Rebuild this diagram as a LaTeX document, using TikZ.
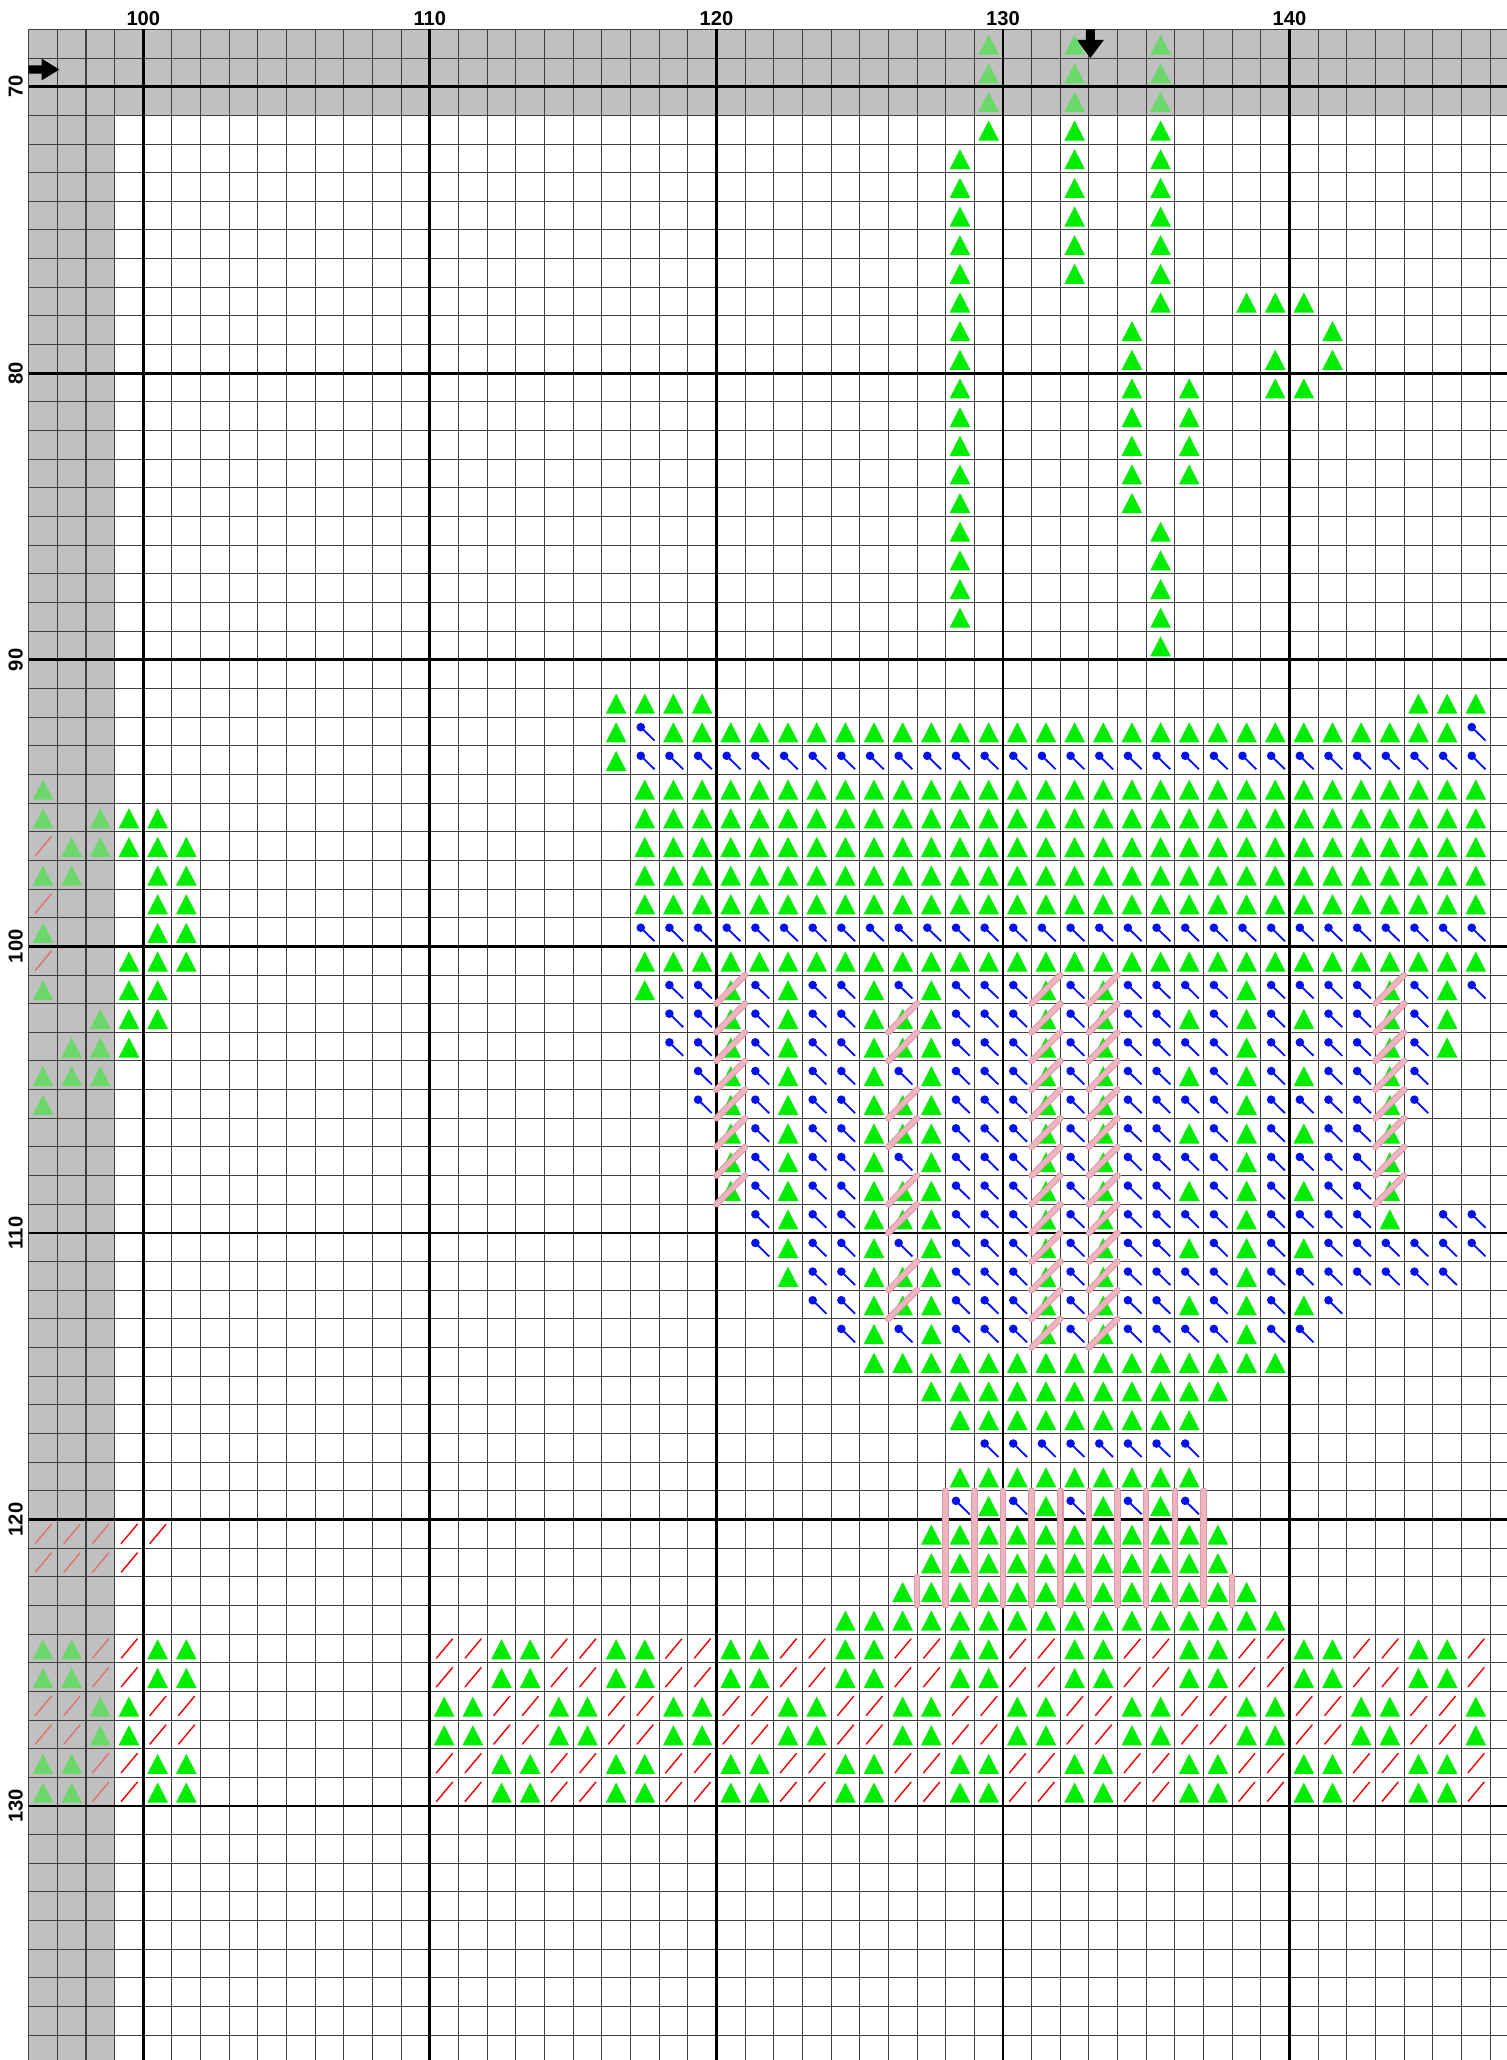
\documentclass[tikz,border=0pt]{standalone}
\usepackage{fontspec}
\setmainfont{Liberation Sans}
\usepackage{tikz}
\usetikzlibrary{calc}
\definecolor{stgreen}{HTML}{00EC00}
\definecolor{fadegreen}{HTML}{6CD86C}
\definecolor{stblue}{HTML}{0010F0}
\definecolor{stred}{HTML}{F00000}
\definecolor{fadered}{HTML}{E07272}
\definecolor{chartgrey}{HTML}{C0C0C0}
\definecolor{bsedge}{HTML}{D99AA8}
\definecolor{bsfill}{HTML}{F0B4BF}

\begin{document}
\begin{tikzpicture}[
  x=5mm, y=-5mm,
  font=\bfseries\fontsize{10}{11}\selectfont,
  gridthin/.style={draw=black!75,line width=0.5pt},
  gridthick/.style={draw=black,line width=1.4pt},
  bstitch/.style={draw=bsedge,double=bsfill,double distance=2.2pt,line width=0.5pt,line cap=round},
  collabel/.style={anchor=center,inner sep=0pt},
  rowlabel/.style={anchor=center,inner sep=0pt,rotate=90},
  marker/.style={fill=black},
  gtri/.pic={\fill[stgreen] (0.14,0.88) -- (0.86,0.88) -- (0.5,0.18) -- cycle;},
  ftri/.pic={\fill[fadegreen] (0.14,0.88) -- (0.86,0.88) -- (0.5,0.18) -- cycle;},
  bpin/.pic={\draw[stblue,line width=0.9pt] (0.36,0.35) -- (0.84,0.82);
             \fill[stblue] (0.36,0.35) circle [radius=0.15];},
  rsl/.pic={\draw[stred,line width=0.7pt,line cap=round] (0.23,0.84) -- (0.79,0.17);},
  fsl/.pic={\draw[fadered,line width=0.7pt,line cap=round] (0.23,0.84) -- (0.79,0.17);}
]
\useasboundingbox (95,66.975) rectangle (147.59,138.865);
\fill[white] (95,66.975) rectangle (147.59,138.865);

% grey border zone
\fill[chartgrey] (96,68) rectangle (99,138.865);
\fill[chartgrey] (96,68) rectangle (147.59,71);

% grid
\foreach \i in {96,...,147} \draw[gridthin] (\i,68) -- (\i,138.865);
\foreach \j in {68,...,138} \draw[gridthin] (96,\j) -- (147.59,\j);
\foreach \i in {100,110,...,140} \draw[gridthick] (\i,68) -- (\i,138.865);
\foreach \j in {70,80,...,130} \draw[gridthick] (96,\j) -- (147.59,\j);

% labels
\foreach \c in {100,110,...,140} \node[collabel] (col\c) at (\c,67.61) {\c};
\foreach \r in {70,80,...,130} \node[rowlabel] (row\r) at (95.55,\r) {\r};

% centre markers
\fill[marker] (132.89,68) -- (133.21,68) -- (133.21,68.37) -- (133.52,68.37)
  -- (133.05,69) -- (132.58,68.37) -- (132.89,68.37) -- cycle;
\fill[marker] (96,69.26) -- (96.45,69.26) -- (96.45,69.02) -- (97.07,69.4)
  -- (96.45,69.78) -- (96.45,69.54) -- (96,69.54) -- cycle;

% stems
\foreach \r in {68,69,70} {
  \pic at (129,\r) {ftri}; \pic at (132,\r) {ftri}; \pic at (135,\r) {ftri};
}
\pic at (129,71) {gtri};
\foreach \r in {72,...,88} \pic at (128,\r) {gtri};
\foreach \r in {71,...,76} \pic at (132,\r) {gtri};
\foreach \r in {71,...,77} \pic at (135,\r) {gtri};
\foreach \r in {78,...,84} \pic at (134,\r) {gtri};
\foreach \r in {85,...,89} \pic at (135,\r) {gtri};
\foreach \r in {80,...,83} \pic at (136,\r) {gtri};
\foreach \c/\r in {138/77,139/77,140/77,141/78,139/79,141/79,139/80,140/80}
  \pic at (\c,\r) {gtri};

% left fragment
\foreach \c/\r in {96/94,96/95,98/95,97/96,98/96,96/97,97/97,96/99,96/101,
                   98/102,97/103,98/103,96/104,97/104,98/104,96/105}
  \pic at (\c,\r) {ftri};
\foreach \r in {96,98,100} \pic at (96,\r) {fsl};
\foreach \c/\r in {99/95,100/95,99/96,100/96,101/96,100/97,101/97,100/98,101/98,
                   100/99,101/99,99/100,100/100,101/100,99/101,100/101,99/102,
                   100/102,99/103}
  \pic at (\c,\r) {gtri};

% cup rim
\foreach \c in {116,...,119,144,145,146} \pic at (\c,91) {gtri};
\foreach \c in {116,118,119,...,145} \pic at (\c,92) {gtri};
\foreach \c in {117,146} \pic at (\c,92) {bpin};
\pic at (116,93) {gtri};
\foreach \c in {117,...,146} {
  \pic at (\c,93) {bpin};
  \foreach \r in {94,...,98} \pic at (\c,\r) {gtri};
  \pic at (\c,99) {bpin};
  \pic at (\c,100) {gtri};
}

% cup body
\foreach \r/\tl/\pl in {
  101/{117,120,122,125,127,131,133,138,143,145}/{118,119,121,123,124,126,128,129,130,132,134,135,136,137,139,140,141,142,144,146},
  102/{120,122,125,126,127,131,133,136,138,140,143,145}/{118,119,121,123,124,128,129,130,132,134,135,137,139,141,142,144},
  103/{120,122,125,126,127,131,133,138,143,145}/{118,119,121,123,124,128,129,130,132,134,135,136,137,139,140,141,142,144},
  104/{120,122,125,127,131,133,136,138,140,143}/{119,121,123,124,126,128,129,130,132,134,135,137,139,141,142,144},
  105/{120,122,125,126,127,131,133,138,143}/{119,121,123,124,128,129,130,132,134,135,136,137,139,140,141,142,144},
  106/{120,122,125,126,127,131,133,136,138,140,143}/{121,123,124,128,129,130,132,134,135,137,139,141,142},
  107/{120,122,125,127,131,133,138,143}/{121,123,124,126,128,129,130,132,134,135,136,137,139,140,141,142},
  108/{120,122,125,126,127,131,133,136,138,140,143}/{121,123,124,128,129,130,132,134,135,137,139,141,142},
  109/{122,125,126,127,131,133,138,143}/{121,123,124,128,129,130,132,134,135,136,137,139,140,141,142,145,146},
  110/{122,125,127,131,133,136,138,140}/{121,123,124,126,128,129,130,132,134,135,137,139,141,142,143,144,145,146},
  111/{122,125,126,127,131,133,138}/{123,124,128,129,130,132,134,135,136,137,139,140,141,142,143,144,145},
  112/{125,126,127,131,133,136,138,140}/{123,124,128,129,130,132,134,135,137,139,141},
  113/{125,127,131,133,138}/{124,126,128,129,130,132,134,135,136,137,139,140}} {
  \foreach \c in \tl \pic at (\c,\r) {gtri};
  \foreach \c in \pl \pic at (\c,\r) {bpin};
}

% cup base and stand
\foreach \c in {125,...,139} \pic at (\c,114) {gtri};
\foreach \c in {127,...,137} {\pic at (\c,115) {gtri}; \pic at (\c,120) {gtri}; \pic at (\c,121) {gtri};}
\foreach \c in {128,...,136} {\pic at (\c,116) {gtri}; \pic at (\c,118) {gtri};}
\foreach \c in {129,...,136} \pic at (\c,117) {bpin};
\foreach \c in {128,130,...,136} \pic at (\c,119) {bpin};
\foreach \c in {129,131,...,135} \pic at (\c,119) {gtri};
\foreach \c in {126,...,138} \pic at (\c,122) {gtri};
\foreach \c in {124,...,139} \pic at (\c,123) {gtri};

% red marks on the left
\foreach \c in {96,97,98} {\pic at (\c,120) {fsl}; \pic at (\c,121) {fsl};}
\foreach \c/\r in {99/120,100/120,99/121} \pic at (\c,\r) {rsl};

% checkered band
\foreach \r in {124,125,128,129} {
  \pic at (96,\r) {ftri}; \pic at (97,\r) {ftri}; \pic at (98,\r) {fsl};
  \pic at (99,\r) {rsl}; \pic at (100,\r) {gtri}; \pic at (101,\r) {gtri};
  \foreach \c in {110,114,...,142} {
    \pic at (\c,\r) {rsl}; \pic at (\c+1,\r) {rsl};
    \pic at (\c+2,\r) {gtri}; \pic at (\c+3,\r) {gtri};
  }
  \pic at (146,\r) {rsl};
}
\foreach \r in {126,127} {
  \pic at (96,\r) {fsl}; \pic at (97,\r) {fsl}; \pic at (98,\r) {ftri};
  \pic at (99,\r) {gtri}; \pic at (100,\r) {rsl}; \pic at (101,\r) {rsl};
  \foreach \c in {110,114,...,142} {
    \pic at (\c,\r) {gtri}; \pic at (\c+1,\r) {gtri};
    \pic at (\c+2,\r) {rsl}; \pic at (\c+3,\r) {rsl};
  }
  \pic at (146,\r) {gtri};
}

% backstitch
\foreach \c/\rows in {120/{101,...,108},126/{102,103,105,106,108,109,111,112},
                      131/{101,...,113},133/{101,...,113},143/{101,...,108}}
  \foreach \r in \rows \draw[bstitch] (\c,\r+1) -- (\c+1,\r);
\foreach \i in {128,...,137} \draw[bstitch] (\i,119) -- (\i,123);
\foreach \i in {127,138} \draw[bstitch] (\i,122) -- (\i,123);
\end{tikzpicture}
\end{document}
